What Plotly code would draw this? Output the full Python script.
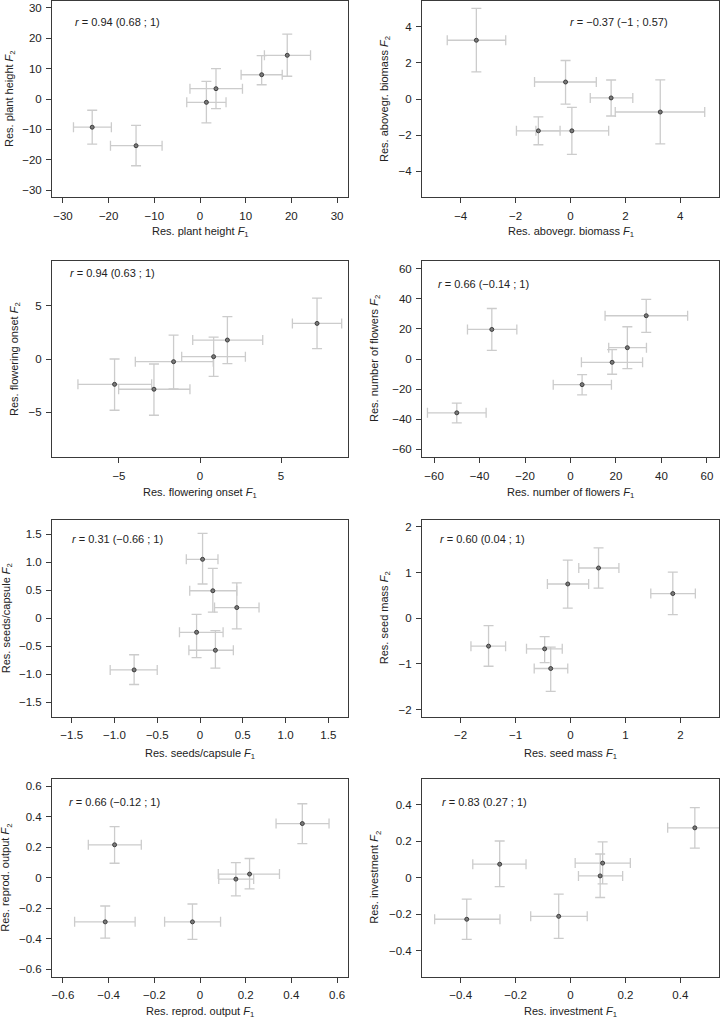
import plotly.graph_objects as go

W, H = 720, 1022
MINUS = "\u2212"

# ---------------- data ----------------
# 1 plant height
ph_x = [-23.6, -14.0, 1.4, 3.5, 13.5, 19.1]
ph_x_lo = [-27.7, -19.6, -2.9, -2.2, 9.0, 14.1]
ph_x_hi = [-19.4, -8.3, 5.7, 9.3, 18.0, 24.2]
ph_y = [-9.3, -15.4, -1.1, 3.4, 8.0, 14.4]
ph_y_lo = [-14.9, -22.0, -7.9, -3.2, 4.7, 7.5]
ph_y_hi = [-3.7, -8.7, 5.8, 10.0, 14.3, 21.4]

# 2 aboveground biomass
bm_x = [-3.43, -0.18, 1.48, 3.27, -1.17, 0.05]
bm_x_lo = [-4.49, -1.31, 0.72, 1.63, -1.97, -1.26]
bm_x_hi = [-2.36, 0.94, 2.27, 4.89, -0.38, 1.39]
bm_y = [3.25, 0.94, 0.06, -0.72, -1.76, -1.76]
bm_y_lo = [1.50, -0.28, -0.94, -2.48, -2.53, -3.06]
bm_y_hi = [5.01, 2.13, 1.05, 1.06, -0.99, -0.46]

# 3 flowering onset
fo_x = [-5.27, -2.84, -1.63, 0.84, 1.69, 7.22]
fo_x_lo = [-7.53, -5.02, -3.99, -1.13, -0.45, 5.70]
fo_x_hi = [-2.98, -0.62, 0.82, 2.80, 3.87, 8.74]
fo_y = [-2.38, -2.84, -0.25, 0.22, 1.78, 3.34]
fo_y_lo = [-4.81, -5.28, -2.81, -1.63, -0.44, 0.97]
fo_y_hi = [0.00, -0.47, 2.25, 2.06, 3.97, 5.72]

# 4 number of flowers
nf_x = [-50.0, -34.6, 5.1, 18.3, 25.0, 33.3]
nf_x_lo = [-62.9, -45.3, -7.6, 4.8, 16.8, 15.2]
nf_x_hi = [-37.1, -23.6, 18.0, 31.7, 33.4, 51.5]
nf_y = [-35.7, 19.6, -17.0, -2.2, 7.5, 28.7]
nf_y_lo = [-42.4, 5.7, -23.8, -10.1, -6.4, 17.6]
nf_y_hi = [-29.3, 33.5, -10.4, 6.2, 21.4, 39.5]

# 5 seeds per capsule
sc_x = [-0.77, 0.03, 0.15, 0.43, -0.04, 0.18]
sc_x_lo = [-1.05, -0.16, -0.12, 0.17, -0.24, -0.13]
sc_x_hi = [-0.50, 0.21, 0.43, 0.69, 0.27, 0.39]
sc_y = [-0.92, 1.05, 0.49, 0.19, -0.25, -0.57]
sc_y_lo = [-1.18, 0.61, 0.11, -0.19, -0.70, -0.89]
sc_y_hi = [-0.65, 1.51, 0.89, 0.63, 0.07, -0.22]

# 6 seed mass
sm_x = [-1.49, -0.47, -0.36, -0.05, 0.51, 1.86]
sm_x_lo = [-1.81, -0.80, -0.66, -0.42, 0.15, 1.46]
sm_x_hi = [-1.18, -0.15, -0.05, 0.33, 0.88, 2.27]
sm_y = [-0.61, -0.67, -1.10, 0.75, 1.10, 0.54]
sm_y_lo = [-1.05, -0.97, -1.60, 0.22, 0.66, 0.08]
sm_y_hi = [-0.16, -0.40, -0.63, 1.27, 1.54, 1.01]

# 7 reproductive output
ro_x = [-0.415, -0.374, -0.033, 0.157, 0.217, 0.448]
ro_x_lo = [-0.549, -0.489, -0.155, 0.082, 0.080, 0.333]
ro_x_hi = [-0.284, -0.257, 0.090, 0.235, 0.348, 0.565]
ro_y = [-0.289, 0.216, -0.289, -0.009, 0.024, 0.355]
ro_y_lo = [-0.395, 0.095, -0.404, -0.119, -0.073, 0.223]
ro_y_hi = [-0.185, 0.335, -0.172, 0.099, 0.126, 0.485]

# 8 investment
iv_x = [-0.378, -0.258, -0.043, 0.108, 0.117, 0.453]
iv_x_lo = [-0.495, -0.356, -0.145, 0.029, 0.017, 0.354]
iv_x_hi = [-0.257, -0.162, 0.061, 0.190, 0.218, 0.545]
iv_y = [-0.227, 0.074, -0.211, 0.010, 0.080, 0.273]
iv_y_lo = [-0.337, -0.049, -0.332, -0.108, -0.034, 0.162]
iv_y_hi = [-0.117, 0.201, -0.089, 0.130, 0.196, 0.384]

trait_names = ["plant height", "abovegr. biomass", "flowering onset",
               "number of flowers", "seeds/capsule", "seed mass",
               "reprod. output", "investment"]
r_labels = ["0.94 (0.68 ; 1)", "\u22120.37 (\u22121 ; 0.57)", "0.94 (0.63 ; 1)",
            "0.66 (\u22120.14 ; 1)", "0.31 (\u22120.66 ; 1)", "0.60 (0.04 ; 1)",
            "0.66 (\u22120.12 ; 1)", "0.83 (0.27 ; 1)"]
tick_sets = [
    [-30, -20, -10, 0, 10, 20, 30],
    [-4, -2, 0, 2, 4],
    [-5, 0, 5],
    [-60, -40, -20, 0, 20, 40, 60],
    [-1.5, -1.0, -0.5, 0, 0.5, 1.0, 1.5],
    [-2, -1, 0, 1, 2],
    [-0.6, -0.4, -0.2, 0, 0.2, 0.4, 0.6],
    [-0.4, -0.2, 0, 0.2, 0.4],
]
series = [
    (ph_x, ph_x_lo, ph_x_hi, ph_y, ph_y_lo, ph_y_hi),
    (bm_x, bm_x_lo, bm_x_hi, bm_y, bm_y_lo, bm_y_hi),
    (fo_x, fo_x_lo, fo_x_hi, fo_y, fo_y_lo, fo_y_hi),
    (nf_x, nf_x_lo, nf_x_hi, nf_y, nf_y_lo, nf_y_hi),
    (sc_x, sc_x_lo, sc_x_hi, sc_y, sc_y_lo, sc_y_hi),
    (sm_x, sm_x_lo, sm_x_hi, sm_y, sm_y_lo, sm_y_hi),
    (ro_x, ro_x_lo, ro_x_hi, ro_y, ro_y_lo, ro_y_hi),
    (iv_x, iv_x_lo, iv_x_hi, iv_y, iv_y_lo, iv_y_hi),
]

# ---------------- layout geometry (px) ----------------
x_ranges = [(-32.4, 32.4), (-5.41, 5.41), (-9.13, 9.13), (-65.3, 65.3),
            (-1.73, 1.73), (-2.7, 2.7), (-0.648, 0.648), (-0.541, 0.541)]
y_ranges = [(-32.3, 32.3), (-5.42, 5.42), (-9.2, 9.2), (-65.0, 65.0),
            (-1.75, 1.75), (-2.15, 2.15), (-0.647, 0.647), (-0.54, 0.54)]
cols = [(52, 348), (422, 719)]
rows = [(1, 197), (261, 457), (520, 716.5), (779, 976.5)]
xtitle_y = [232, 493, 754, 1012]
ytitle_x = [10, 385, 15, 375, 7, 385, 6, 375]
rlab_pos = [(73, 22), (568, 22), (68, 273), (436, 284),
            (70, 539), (438, 539), (67, 802), (440, 802)]

FONT = "Liberation Sans, Arial, Helvetica, sans-serif"
TXT = "#222222"
FRAME = "#3a3a3a"
ERR = "#cccccc"


def ticklabels(ticks):
    dec = any(abs(t) % 1 > 1e-9 for t in ticks)
    out = []
    for t in ticks:
        if abs(t) < 1e-12:
            out.append("0")
        elif dec:
            out.append((MINUS if t < 0 else "") + "%.1f" % abs(t))
        else:
            out.append((MINUS if t < 0 else "") + "%d" % abs(t))
    return out


fig = go.Figure()
layout = {}
annotations = []

for i in range(8):
    r, c = divmod(i, 2)
    x0, x1 = cols[c]
    y0, y1 = rows[r]
    ax = "" if i == 0 else str(i + 1)
    xs, xlo, xhi, ys, ylo, yhi = series[i]
    fig.add_trace(go.Scatter(
        x=xs, y=ys, mode="markers",
        xaxis="x" + ax, yaxis="y" + ax,
        marker=dict(size=4, color="#7a7a7a", line=dict(color="#333333", width=0.9)),
        error_x=dict(type="data", symmetric=False,
                     array=[h - v for h, v in zip(xhi, xs)],
                     arrayminus=[v - l for l, v in zip(xlo, xs)],
                     color=ERR, thickness=1.3, width=5),
        error_y=dict(type="data", symmetric=False,
                     array=[h - v for h, v in zip(yhi, ys)],
                     arrayminus=[v - l for l, v in zip(ylo, ys)],
                     color=ERR, thickness=1.3, width=5),
        showlegend=False, hoverinfo="skip",
    ))
    ticks = tick_sets[i]
    common = dict(showgrid=False, zeroline=False, showline=True, mirror=True,
                  linecolor=FRAME, linewidth=1, ticks="outside", ticklen=5,
                  tickwidth=1, tickcolor=FRAME, tickmode="array",
                  tickvals=ticks, ticktext=ticklabels(ticks),
                  tickfont=dict(family=FONT, size=11.5, color=TXT))
    layout["xaxis" + ax] = dict(common, domain=[x0 / W, x1 / W],
                                range=list(x_ranges[i]), anchor="y" + ax,
                                ticklabelstandoff=3)
    layout["yaxis" + ax] = dict(common, domain=[1 - y1 / H, 1 - y0 / H],
                                range=list(y_ranges[i]), anchor="x" + ax,
                                ticklabelstandoff=2)
    name = trait_names[i]
    annotations.append(dict(
        x=(x0 + x1) / 2 / W, y=1 - xtitle_y[r] / H, xref="paper", yref="paper",
        text="Res. %s <i>F</i><sub>1</sub>" % name, showarrow=False,
        xanchor="center", yanchor="middle",
        font=dict(family=FONT, size=11, color=TXT)))
    annotations.append(dict(
        x=ytitle_x[i] / W, y=1 - (y0 + y1) / 2 / H, xref="paper", yref="paper",
        text="Res. %s <i>F</i><sub>2</sub>" % name, showarrow=False,
        textangle=-90, xanchor="center", yanchor="middle",
        font=dict(family=FONT, size=11, color=TXT)))
    px, py = rlab_pos[i]
    annotations.append(dict(
        x=px / W, y=1 - py / H, xref="paper", yref="paper",
        text="<i>r</i> = " + r_labels[i], showarrow=False,
        xanchor="left", yanchor="middle",
        font=dict(family=FONT, size=11, color=TXT)))

fig.update_layout(
    width=W, height=H, margin=dict(l=0, r=0, t=0, b=0),
    paper_bgcolor="white", plot_bgcolor="white",
    annotations=annotations, **layout)

fig.write_html("out.html",
               config={"displayModeBar": False, "staticPlot": True},
               post_script="document.body.style.margin='0px';"
                           "document.body.style.padding='0px';"
                           "document.body.style.overflow='hidden';")
